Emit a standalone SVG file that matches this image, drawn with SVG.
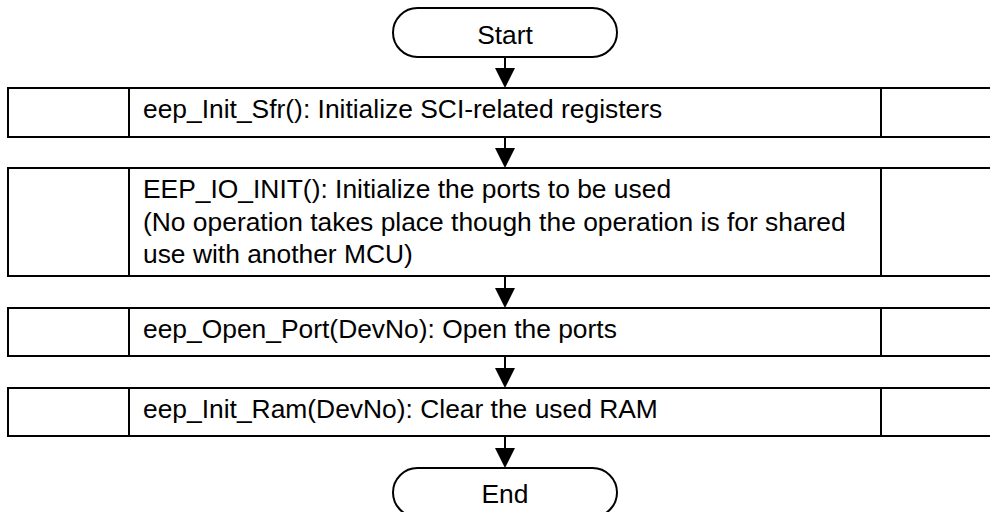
<svg xmlns="http://www.w3.org/2000/svg" width="990" height="512" viewBox="0 0 990 512">
  <style>
    .shape { fill: #ffffff; stroke: #000000; stroke-width: 2; }
    .line { fill: none; stroke: #000000; stroke-width: 2; }
    .head { fill: #000000; stroke: none; }
    text { font-family: "Liberation Sans", Arial, sans-serif; font-size: 26.4px; fill: #000000; }
    .mid { text-anchor: middle; }
  </style>
  <rect x="0" y="0" width="990" height="512" fill="#ffffff"/>

  <!-- connectors -->
  <g id="connectors">
    <line class="line" x1="505" y1="57" x2="505" y2="70"/>
    <polygon class="head" points="495,68 515,68 505,88"/>
    <line class="line" x1="505" y1="137" x2="505" y2="150"/>
    <polygon class="head" points="495,148 515,148 505,168"/>
    <line class="line" x1="505" y1="276" x2="505" y2="290"/>
    <polygon class="head" points="495,288 515,288 505,308"/>
    <line class="line" x1="505" y1="356" x2="505" y2="370"/>
    <polygon class="head" points="495,368 515,368 505,388"/>
    <line class="line" x1="505" y1="436" x2="505" y2="450"/>
    <polygon class="head" points="495,448 515,448 505,468"/>
  </g>

  <g id="start">
    <rect class="shape" x="393" y="8" width="224" height="49" rx="24.5" ry="24.5"/>
    <text class="mid" x="505" y="44">Start</text>
  </g>

  <g id="init-sfr">
    <rect class="shape" x="8" y="88" width="1000" height="49"/>
    <line class="line" x1="129" y1="88" x2="129" y2="137"/>
    <line class="line" x1="881" y1="88" x2="881" y2="137"/>
    <text x="143" y="118">eep_Init_Sfr(): Initialize SCI-related registers</text>
  </g>

  <g id="io-init">
    <rect class="shape" x="8" y="168" width="1000" height="108"/>
    <line class="line" x1="129" y1="168" x2="129" y2="276"/>
    <line class="line" x1="881" y1="168" x2="881" y2="276"/>
    <text x="143" y="198">EEP_IO_INIT(): Initialize the ports to be used</text>
    <text x="143" y="231">(No operation takes place though the operation is for shared</text>
    <text x="143" y="263">use with another MCU)</text>
  </g>

  <g id="open-port">
    <rect class="shape" x="8" y="308" width="1000" height="48"/>
    <line class="line" x1="129" y1="308" x2="129" y2="356"/>
    <line class="line" x1="881" y1="308" x2="881" y2="356"/>
    <text x="143" y="338">eep_Open_Port(DevNo): Open the ports</text>
  </g>

  <g id="init-ram">
    <rect class="shape" x="8" y="388" width="1000" height="48"/>
    <line class="line" x1="129" y1="388" x2="129" y2="436"/>
    <line class="line" x1="881" y1="388" x2="881" y2="436"/>
    <text x="143" y="418">eep_Init_Ram(DevNo): Clear the used RAM</text>
  </g>

  <g id="end">
    <rect class="shape" x="393" y="468" width="224" height="49" rx="24.5" ry="24.5"/>
    <text class="mid" x="505" y="503">End</text>
  </g>
</svg>
